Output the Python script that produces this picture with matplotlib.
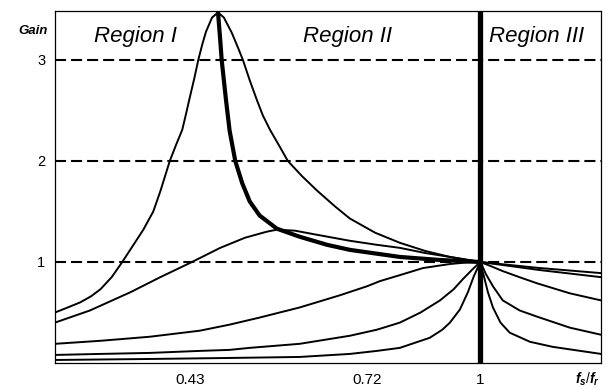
import matplotlib.pyplot as plt
from matplotlib.ticker import NullLocator

plt.rcParams['font.family'] = ['Liberation Sans', 'DejaVu Sans']
plt.rcParams['mathtext.fontset'] = 'custom'
plt.rcParams['mathtext.it'] = 'Liberation Sans:italic:bold'
plt.rcParams['mathtext.rm'] = 'Liberation Sans'

# gain curves (x = fs/fr, y = gain)
fn1 = [0.290, 0.301, 0.312, 0.322, 0.331, 0.342, 0.352, 0.363, 0.375, 0.386, 0.394, 0.405,
       0.412, 0.420, 0.425, 0.429, 0.435, 0.440, 0.445, 0.450, 0.458, 0.466, 0.474, 0.485,
       0.494, 0.501, 0.511, 0.522, 0.531, 0.542, 0.555, 0.571, 0.595, 0.621, 0.655, 0.684,
       0.736, 0.791, 0.851, 0.915, 1.0, 1.189, 1.42]
gain1 = [0.50, 0.55, 0.60, 0.66, 0.73, 0.85, 0.99, 1.15, 1.32, 1.50, 1.70, 2.00,
         2.15, 2.31, 2.48, 2.62, 2.82, 3.00, 3.15, 3.28, 3.42, 3.47, 3.42, 3.27,
         3.12, 3.00, 2.80, 2.60, 2.45, 2.31, 2.17, 2.00, 1.85, 1.71, 1.55, 1.43,
         1.29, 1.19, 1.11, 1.05, 1.00, 0.94, 0.89]

fn2 = [0.290, 0.321, 0.361, 0.394, 0.432, 0.469, 0.504, 0.537, 0.553, 0.583, 0.621, 0.684,
       0.740, 0.791, 0.850, 0.915, 1.0, 1.189, 1.42]
gain2 = [0.40, 0.52, 0.70, 0.85, 1.00, 1.14, 1.24, 1.30, 1.32, 1.31, 1.27, 1.21,
         1.17, 1.14, 1.09, 1.05, 1.00, 0.92, 0.85]

fn3 = [0.290, 0.331, 0.382, 0.442, 0.482, 0.526, 0.591, 0.664, 0.719, 0.746, 0.791, 0.846,
       0.915, 0.960, 1.0, 1.030, 1.067, 1.120, 1.178, 1.297, 1.42]
gain3 = [0.19, 0.22, 0.26, 0.32, 0.38, 0.45, 0.55, 0.67, 0.76, 0.81, 0.87, 0.94,
         0.98, 0.995, 1.00, 0.96, 0.91, 0.85, 0.79, 0.69, 0.62]

fn4 = [0.290, 0.331, 0.382, 0.442, 0.482, 0.511, 0.591, 0.684, 0.740, 0.791, 0.840, 0.889,
       0.925, 0.950, 0.975, 0.990, 1.0, 1.008, 1.016, 1.037, 1.067, 1.121, 1.178, 1.297, 1.42]
gain4 = [0.08, 0.09, 0.10, 0.12, 0.13, 0.15, 0.19, 0.27, 0.33, 0.40, 0.50, 0.62,
         0.73, 0.83, 0.92, 0.97, 1.00, 0.94, 0.88, 0.76, 0.62, 0.52, 0.46, 0.35, 0.28]

fn5 = [0.290, 0.382, 0.482, 0.591, 0.684, 0.740, 0.791, 0.863, 0.895, 0.915, 0.942, 0.964,
       0.981, 0.993, 1.0, 1.004, 1.010, 1.022, 1.037, 1.060, 1.089, 1.155, 1.234, 1.42]
gain5 = [0.03, 0.04, 0.05, 0.06, 0.09, 0.12, 0.15, 0.25, 0.33, 0.40, 0.53, 0.70,
         0.86, 0.95, 1.00, 0.93, 0.86, 0.70, 0.55, 0.40, 0.30, 0.21, 0.16, 0.09]

# locus of the peaks (thick line, border region I / II)
fn_peak = [0.466, 0.469, 0.471, 0.477, 0.482, 0.490, 0.500, 0.511, 0.526, 0.553, 0.591,
           0.640, 0.684, 0.791, 0.889, 1.0]
gain_peak = [3.47, 3.20, 3.00, 2.60, 2.30, 2.00, 1.78, 1.60, 1.46, 1.33, 1.25,
             1.17, 1.12, 1.05, 1.02, 1.00]

x_ticks = [0.43, 0.72, 1]
x_labels = ['0.43', '0.72', '1']
y_ticks = [1, 2, 3]
regions = ['Region I', 'Region II', 'Region III']
region_x = [0.367, 0.680, 1.178]

fig = plt.figure(figsize=(6.11, 3.89), dpi=100)
ax = fig.add_axes([0.090, 0.0668, 0.8936, 0.905])

for fn, g in [(fn1, gain1), (fn2, gain2), (fn3, gain3), (fn4, gain4), (fn5, gain5)]:
    ax.plot(fn, g, color='black', lw=1.4, solid_joinstyle='round')
ax.plot(fn_peak, gain_peak, color='black', lw=3.0, solid_capstyle='round',
        solid_joinstyle='round')
ax.axvline(1.0, color='black', lw=3.8)

# dashed gain levels
for y in y_ticks:
    ax.axhline(y, color='black', lw=1.5, linestyle=(0, (5.3, 2.4)))

for name, x in zip(regions, region_x):
    ax.text(x, 3.18, name, fontsize=16, style='italic', ha='center', va='baseline')

ax.set_xscale('log')
ax.set_xlim(0.29, 1.42)
ax.set_ylim(0, 3.485)
ax.set_xticks(x_ticks)
ax.set_xticklabels(x_labels)
ax.xaxis.set_minor_locator(NullLocator())
ax.set_yticks(y_ticks)
ax.tick_params(axis='x', length=0, pad=7, labelsize=11)
ax.tick_params(axis='y', direction='in', length=3.6, width=1.2, pad=7, labelsize=10.5)
for s in ax.spines.values():
    s.set_linewidth(0.9)

ax.text(-0.0128, 0.943, 'Gain', transform=ax.transAxes, fontsize=9.5, style='italic',
        weight='bold', ha='right', va='center')
ax.text(0.975, -0.045, r'$f_s/f_r$', transform=ax.transAxes, fontsize=10,
        ha='center', va='center')

plt.savefig('out.png', dpi=100)
